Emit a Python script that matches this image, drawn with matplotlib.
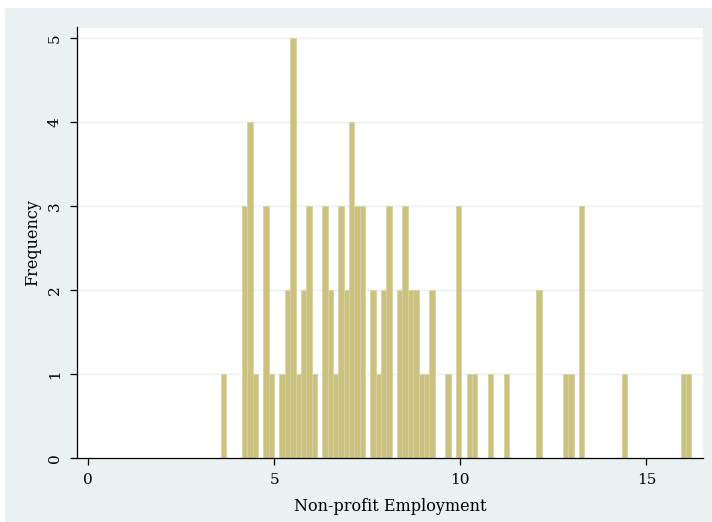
import numpy as np
import matplotlib
matplotlib.use("Agg")
import matplotlib.pyplot as plt
from matplotlib.patches import Rectangle

# Histogram data: 88 bins, counts per bin
bin_start = 3.564
bin_width = 0.14365
counts = [1, 0, 0, 0, 3, 4, 1, 0, 3, 1,
          0, 1, 2, 5, 1, 2, 3, 1, 0, 3,
          2, 1, 3, 2, 4, 3, 3, 0, 2, 1,
          2, 3, 0, 2, 3, 2, 2, 1, 1, 2,
          0, 0, 1, 0, 3, 0, 1, 1, 0, 0,
          1, 0, 0, 1, 0, 0, 0, 0, 0, 2,
          0, 0, 0, 0, 1, 1, 0, 3, 0, 0,
          0, 0, 0, 0, 0, 1, 0, 0, 0, 0,
          0, 0, 0, 0, 0, 0, 1, 1]
x_ticks = [0, 5, 10, 15]
y_ticks = [0, 1, 2, 3, 4, 5]
x_label = "Non-profit Employment"
y_label = "Frequency"

fig = plt.figure(figsize=(7.12, 5.22), dpi=100, facecolor="white")
fig.patches.append(Rectangle((5 / 712, -0.02), 1.02, 1.02 - 8 / 522,
                             transform=fig.transFigure, facecolor="#EAF1F3",
                             edgecolor="none", zorder=-10))

ax = fig.add_axes([77 / 712, (522 - 458) / 522, (703 - 77) / 712, (458 - 27.5) / 522])
ax.set_zorder(1)
ax.set_facecolor("white")

edges = bin_start + bin_width * np.arange(len(counts))
ax.bar(edges, counts, width=bin_width, align="edge", color="#CBC282",
       edgecolor="#D8D29C", linewidth=0.6, zorder=2)

ax.set_xlim(-0.295, 16.52)
ax.set_ylim(0, 5.13)
ax.set_xticks(x_ticks)
ax.set_yticks(y_ticks)

for y in y_ticks[1:]:
    ax.axhline(y, color="#EAF1F3", linewidth=1.0, zorder=1)

for s in ["top", "right"]:
    ax.spines[s].set_visible(False)
for s in ["left", "bottom"]:
    ax.spines[s].set_color("black")
    ax.spines[s].set_linewidth(0.9)

font = "DejaVu Serif"
ax.tick_params(axis="both", direction="out", length=5, width=0.9, colors="black",
               labelsize=11, pad=6)
for lab in ax.get_xticklabels() + ax.get_yticklabels():
    lab.set_family(font)
for lab in ax.get_yticklabels():
    lab.set_rotation(90)
    lab.set_va("center")

ax.set_xlabel(x_label, fontsize=11.5, family=font, labelpad=8)
ax.set_ylabel(y_label, fontsize=11.5, family=font, labelpad=5)

fig.savefig("out.png", dpi=100, facecolor=fig.get_facecolor())
